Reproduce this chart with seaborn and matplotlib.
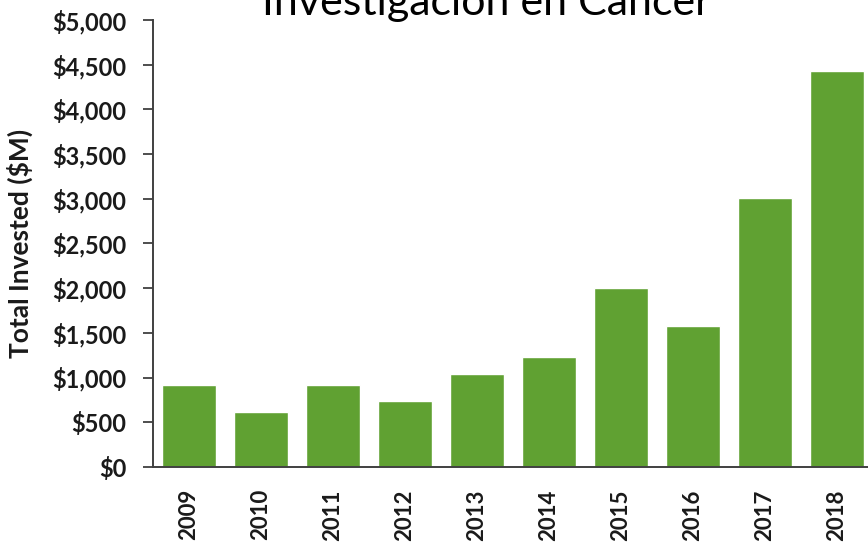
import numpy as np
import pandas as pd
import seaborn as sns
import matplotlib.pyplot as plt

# Data
years = ['2009', '2010', '2011', '2012', '2013', '2014', '2015', '2016', '2017', '2018']
invested = [914, 612, 914, 735, 1040, 1230, 2002, 1577, 3009, 4430]
y_ticks = list(range(0, 5001, 500))
y_tick_labels = ['$0', '$500', '$1,000', '$1,500', '$2,000', '$2,500',
                 '$3,000', '$3,500', '$4,000', '$4,500', '$5,000']

df = pd.DataFrame({'year': years, 'invested': invested})

sns.set_style('white')
plt.rcParams['font.family'] = ['Lato', 'DejaVu Sans']

fig = plt.figure(figsize=(8.68, 5.47), dpi=100)
ax = fig.add_axes([153 / 868, 1 - 467 / 547, 1 - 153 / 868, (467 - 20) / 547])

sns.barplot(data=df, x='year', y='invested', color='#60a132', saturation=1,
            width=0.74, ax=ax)

ax.set_ylim(0, 5000)
ax.set_xlim(-0.5, 9.43)
ax.set_yticks(y_ticks)
ax.set_yticklabels(y_tick_labels, fontsize=17, fontweight='bold', color='#1a1a1a')

# x ticks sit between the bars, labels are centered under them
ax.set_xticks(np.arange(len(years)))
ax.set_xticklabels(years, rotation=90, fontsize=16, fontweight='bold', color='#1a1a1a')
ax.set_xticks(np.arange(len(years)) - 0.5, minor=True)
ax.tick_params(axis='x', which='major', length=0, pad=16)
ax.tick_params(axis='x', which='minor', length=8, width=1.3, color='#404040', direction='out')
ax.tick_params(axis='y', length=7, width=1.3, color='#404040', direction='out', pad=12, left=True)

ax.set_xlabel('')
ax.set_ylabel('Total Invested ($M)', fontsize=19, fontweight='bold', color='#1a1a1a', labelpad=14)

sns.despine(ax=ax)
for side in ['left', 'bottom']:
    ax.spines[side].set_color('#404040')
    ax.spines[side].set_linewidth(1.4)

fig.text(486 / 868, 1 - 15 / 547, 'Investigación en Cáncer', ha='center', va='baseline',
         fontsize=31, color='black')

fig.savefig('out.png', dpi=100)
